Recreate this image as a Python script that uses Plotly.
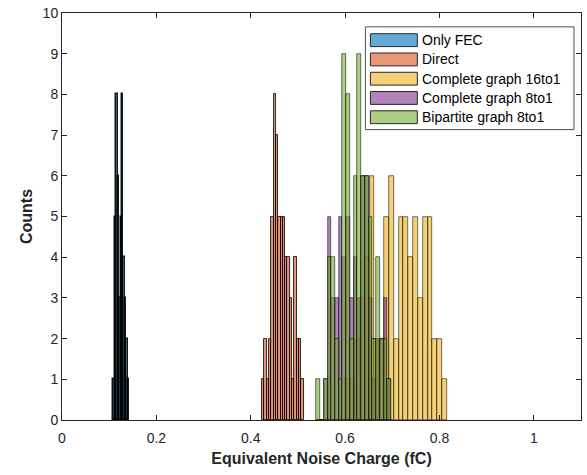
import plotly.graph_objects as go

# ---------------- data (histogram bins) ----------------
series_names = ["Only FEC", "Direct", "Complete graph 16to1",
                "Complete graph 8to1", "Bipartite graph 8to1"]

fec_start, fec_width = 0.1085, 0.0031
fec_counts = [1, 5, 8, 6, 3, 5, 8, 4, 3, 2, 1]

direct_start, direct_width = 0.4239, 0.0049
direct_counts = [1, 2, 1, 2, 5, 8, 7, 5, 5, 5, 4, 4, 3, 1, 4, 2, 2, 1]

c16_start, c16_width = 0.6008, 0.01024
c16_counts = [1, 1, 2, 3, 4, 6, 2, 2, 5, 6, 2, 5, 5, 4, 5, 3, 5, 5, 2, 2, 1]

c8_start, c8_width = 0.5390, 0.00792
c8_counts = [0, 0, 1, 5, 3, 3, 5, 4, 5, 3, 4, 3, 6, 6, 3, 1, 2, 2, 3, 1]

bip_start, bip_width = 0.5390, 0.00792
bip_counts = [1, 0, 1, 4, 4, 2, 1, 9, 8, 2, 6, 9, 6, 6, 5, 2, 4, 2, 2, 1]

x_ticks = [0, 0.2, 0.4, 0.6, 0.8, 1]
x_tick_labels = ["0", "0.2", "0.4", "0.6", "0.8", "1"]
y_ticks = list(range(0, 11))

fill_colors = ["rgba(0,114,189,0.6)", "rgba(217,83,25,0.6)", "rgba(237,177,32,0.6)",
               "rgba(126,47,142,0.6)", "rgba(119,172,48,0.6)"]
edge_widths = [1.5, 0.9, 0.6, 0.6, 0.6]

series = [
    (fec_start, fec_width, fec_counts),
    (direct_start, direct_width, direct_counts),
    (c16_start, c16_width, c16_counts),
    (c8_start, c8_width, c8_counts),
    (bip_start, bip_width, bip_counts),
]

FONT = "Liberation Sans, Arial"

fig = go.Figure()
for (start, width, counts), name, fc, ew in zip(series, series_names, fill_colors, edge_widths):
    centers = [start + width * (i + 0.5) for i in range(len(counts))]
    fig.add_trace(go.Bar(
        x=centers, y=counts, width=width, name=name,
        marker=dict(color=fc, line=dict(color="rgba(0,0,0,0.9)", width=ew)),
        showlegend=False,
    ))

# ---------------- custom MATLAB-like legend ----------------
# plot area spans x 62..582 px and y 8..420 px of the 587x475 page
def px_x(p):
    return (p - 62) / 520.0

def px_y(p):
    return (420 - p) / 412.0

shapes = [dict(type="rect", xref="paper", yref="paper",
               x0=px_x(366), x1=px_x(575), y0=px_y(126), y1=px_y(22),
               line=dict(color="#262626", width=0.8), fillcolor="white", layer="above")]
annotations = []
row_y = [35.5, 55, 74.5, 94, 113.5]
for name, fc, ry in zip(series_names, fill_colors, row_y):
    shapes.append(dict(type="rect", xref="paper", yref="paper",
                       x0=px_x(371), x1=px_x(418), y0=px_y(ry + 6.5), y1=px_y(ry - 6.5),
                       line=dict(color="#262626", width=1), fillcolor=fc, layer="above"))
    annotations.append(dict(xref="paper", yref="paper", x=px_x(421), y=px_y(ry),
                            text=name, showarrow=False, xanchor="left", yanchor="middle",
                            font=dict(family=FONT, size=14, color="#000000")))

axis_common = dict(
    showline=True, linecolor="#262626", linewidth=1, mirror="ticks",
    ticks="inside", ticklen=5, tickwidth=1, tickcolor="#262626",
    showgrid=False, zeroline=False, ticklabeloverflow="allow",
    tickfont=dict(family=FONT, size=14, color="#262626"),
)

fig.update_layout(
    width=587, height=475,
    margin=dict(l=62, r=5, t=8, b=55),
    paper_bgcolor="white", plot_bgcolor="white",
    barmode="overlay", bargap=0,
    xaxis=dict(range=[0, 1.1], tickvals=x_ticks, ticktext=x_tick_labels,
               ticklabelstandoff=5,
               title=dict(text="<b>Equivalent Noise Charge (fC)</b>", standoff=8,
                          font=dict(family=FONT, size=16, color="#262626")),
               **axis_common),
    yaxis=dict(range=[0, 10], tickvals=y_ticks,
               title=dict(text="<b>Counts</b>", standoff=6,
                          font=dict(family=FONT, size=16, color="#262626")),
               **axis_common),
    shapes=shapes, annotations=annotations,
)

fig.write_html("out.html")
